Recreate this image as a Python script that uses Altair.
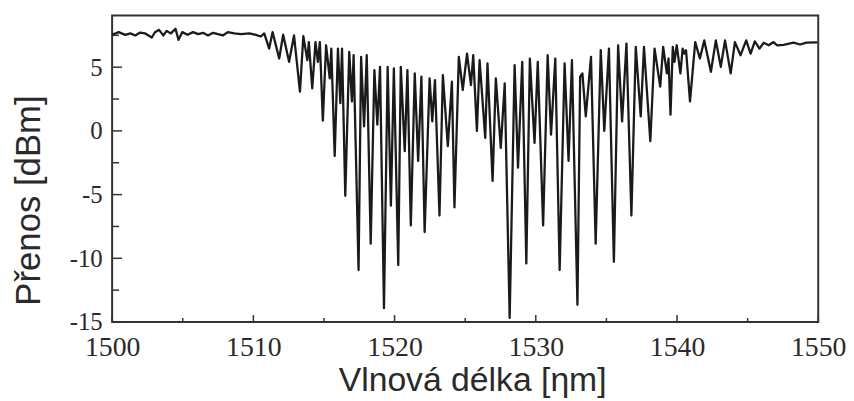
import altair as alt
import pandas as pd

# Wavelength [nm] and transmitted power [dBm]
wavelength = [
    1500.00, 1500.11, 1500.46, 1500.93, 1501.29, 1501.64, 1501.99, 1502.34, 1502.81, 1503.04,
    1503.32, 1503.63, 1503.86, 1504.16, 1504.49, 1504.70, 1504.96, 1505.34, 1505.73, 1506.09,
    1506.44, 1506.79, 1507.14, 1507.49, 1507.84, 1508.19, 1508.66, 1509.13, 1509.72, 1510.18,
    1510.53, 1510.77,
    1511.12, 1511.36, 1511.83, 1512.11, 1512.53, 1512.88, 1513.30, 1513.54, 1513.82, 1513.93,
    1514.17, 1514.40, 1514.57, 1514.71, 1514.92, 1515.15, 1515.41, 1515.52, 1515.76, 1515.99,
    1516.16, 1516.28, 1516.51, 1516.79, 1516.98, 1517.10, 1517.45, 1517.63,
    1517.84, 1518.03, 1518.31, 1518.57, 1518.78, 1518.97, 1519.25, 1519.51, 1519.74, 1519.95,
    1520.26, 1520.44, 1520.72, 1520.91, 1521.15, 1521.43, 1521.67, 1521.90, 1522.13, 1522.48,
    1522.67, 1522.86, 1523.18, 1523.42, 1523.77, 1524.06, 1524.24, 1524.55,
    1524.83, 1525.13, 1525.41, 1525.57, 1525.83, 1526.02, 1526.42, 1526.58, 1526.94, 1527.17,
    1527.52, 1527.80, 1528.15, 1528.50, 1528.74, 1529.04, 1529.33, 1529.58, 1529.91, 1530.14,
    1530.52, 1530.84, 1531.08, 1531.38, 1531.69, 1532.04,
    1532.32, 1532.56, 1532.95, 1533.14, 1533.30, 1533.54, 1533.91, 1534.24, 1534.60, 1534.85,
    1535.18, 1535.53, 1535.83, 1536.11, 1536.42, 1536.77, 1537.08, 1537.43, 1537.66, 1538.11,
    1538.41, 1538.81, 1539.02, 1539.28, 1539.40, 1539.54,
    1539.70, 1539.82, 1539.98, 1540.24, 1540.40, 1540.52, 1540.64, 1540.92, 1541.29, 1541.62,
    1541.93, 1542.40, 1542.75, 1543.10, 1543.40, 1543.80, 1544.10, 1544.50, 1544.90, 1545.21,
    1545.51, 1545.84, 1546.14, 1546.49, 1546.84, 1547.08, 1547.55, 1548.25, 1548.72, 1549.16,
    1549.94,
]
power = [
    7.62, 7.59, 7.75, 7.54, 7.65, 7.49, 7.72, 7.65, 7.33, 7.75,
    7.93, 7.49, 7.85, 7.65, 8.01, 7.15, 7.75, 7.54, 7.75, 7.59,
    7.70, 7.49, 7.70, 7.59, 7.49, 7.75, 7.65, 7.59, 7.65, 7.54,
    7.41, 7.65,
    6.46, 7.75, 5.68, 7.55, 5.42, 7.49, 3.08, 7.44, 5.55, 6.97,
    3.34, 6.97, 5.42, 6.97, 0.80, 6.72, 4.12, 6.46, -1.97, 6.46,
    2.18, 6.46, -5.09, 6.20, 2.31, 5.94, -10.92, 5.80,
    0.36, 5.94, -8.85, 4.77, 0.49, 5.03, -13.91, 5.03, -5.87, 4.90,
    -10.53, 5.03, -1.59, 4.77, -7.42, 4.51, -2.36, 4.25, -7.94, 4.12,
    0.75, 3.99, -6.64, 4.38, -1.20, 3.86, -6.00, 5.81,
    3.21, 6.07, 3.60, 5.94, 0.00, 5.55, -0.55, 5.29, -3.92, 4.12,
    -1.33, 3.73, -14.68, 5.16, -2.88, 5.42, -10.40, 5.68, -0.94, 5.42,
    -7.42, 5.94, -0.29, 5.68, -10.92, 5.29,
    -2.36, 5.55, -13.65, 4.25, 4.51, 1.14, 5.81, -8.85, 6.33, 0.00,
    6.46, -10.27, 6.72, 0.75, 6.85, -6.64, 6.59, 1.14, 6.59, -0.81,
    6.46, 3.47, 6.59, 4.51, 5.68, 1.27,
    6.59, 5.42, 6.72, 4.51, 6.46, 6.07, 6.33, 2.31, 6.97, 5.68,
    7.10, 4.64, 7.10, 5.03, 7.10, 4.51, 6.97, 5.94, 7.10, 6.07,
    7.03, 6.46, 6.92, 6.72, 6.97, 6.72, 6.75, 6.92, 6.78, 6.92,
    6.95,
]

x_major = [1500, 1510, 1520, 1530, 1540, 1550]
x_minor = [1505, 1515, 1525, 1535, 1545]
y_major = [-15, -10, -5, 0, 5]
y_minor = [-12.5, -7.5, -2.5, 2.5, 7.5]

W, H = 712, 309
INK = "#1a1a1a"
TXT = "#2a2a2a"
SERIF = "Liberation Serif, Times New Roman, serif"
SANS = "Liberation Sans, Arial, sans-serif"

df = pd.DataFrame({"wl": wavelength, "p": power})

x_scale = alt.Scale(domain=[1500, 1550], nice=False, zero=False)
y_scale = alt.Scale(domain=[-15, 9.05], nice=False, zero=False)

x_axis = alt.Axis(
    values=x_major, labelExpr="'' + datum.value", ticks=False, tickSize=0,
    domain=False, grid=False,
    labelFont=SERIF, labelFontSize=28, labelColor=TXT,
    labelBaseline="alphabetic", labelPadding=34, labelFlush=False,
    title="Vlnová délka [ηm]", titleFont=SANS, titleFontSize=34,
    titleFontWeight="normal", titleColor=TXT, titleX=363, titleY=69,
    titleAlign="center", titleBaseline="alphabetic",
)
y_axis = alt.Axis(
    values=y_major, labelExpr="'' + datum.value", ticks=False, tickSize=0,
    domain=False, grid=False,
    labelFont=SERIF, labelFontSize=25, labelColor=TXT,
    labelPadding=10, labelBaseline="middle", labelOffset=0,
    title="Přenos [dBm]", titleFont=SANS, titleFontSize=35,
    titleFontWeight="normal", titleColor=TXT, titleX=-73, titleY=186,
    titleAngle=270, titleAlign="center", titleBaseline="alphabetic",
)

line = alt.Chart(df).mark_line(color=INK, strokeWidth=2.3, strokeJoin="round").encode(
    x=alt.X("wl:Q", scale=x_scale, axis=x_axis),
    y=alt.Y("p:Q", scale=y_scale, axis=y_axis),
)

def xticks(vals, length):
    d = pd.DataFrame({"wl": vals})
    return alt.Chart(d).mark_rule(color="#333333", strokeWidth=1.5).encode(
        x=alt.X("wl:Q", scale=x_scale, axis=x_axis),
        y=alt.value(H),
        y2=alt.value(H - length),
    )

def yticks(vals, length):
    d = pd.DataFrame({"p": vals})
    return alt.Chart(d).mark_rule(color="#333333", strokeWidth=1.5).encode(
        y=alt.Y("p:Q", scale=y_scale, axis=y_axis),
        x=alt.value(0),
        x2=alt.value(length),
    )

chart = alt.layer(
    xticks(x_major, 7), xticks(x_minor, 4), yticks(y_major, 10), yticks(y_minor, 7), line
).properties(
    width=W, height=H,
    background="white",
    autosize=alt.AutoSizeParams(type="none"),
    padding={"left": 105, "top": 6, "right": 28, "bottom": 78},
).configure_view(stroke="#333333", strokeWidth=2)

chart.save("out.html", embed_options={"renderer": "svg", "actions": False})
